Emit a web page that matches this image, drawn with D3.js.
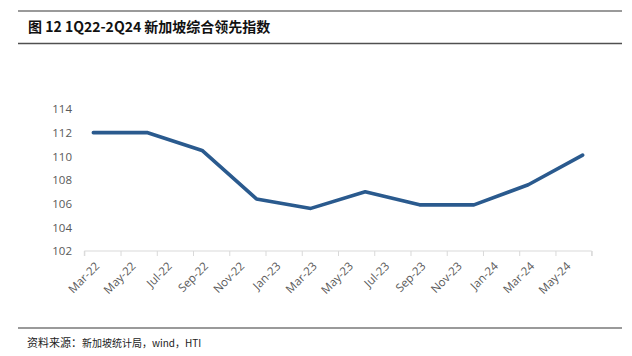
<!DOCTYPE html>
<html><head><meta charset="utf-8">
<script src="https://cdn.jsdelivr.net/npm/d3@7"></script>
<style>html,body{margin:0;padding:0;background:#fff;}svg{display:block;}</style>
</head><body>
<svg id="c" width="632" height="356"></svg>
<script>
// ---- data ----
const title = "图 12 1Q22-2Q24 新加坡综合领先指数";
const sourceLabel = "资料来源：";
const sourceText = "新加坡统计局，wind，HTI";
// months on the axis (Mar-22 .. Jun-24), data points are quarterly
const axisStart = "2022-03";
const axisMonths = 28;
const pointMonths = ["2022-03","2022-06","2022-09","2022-12","2023-03","2023-06","2023-09","2023-12","2024-03","2024-06"];
const values = [112.0,112.0,110.5,106.4,105.6,107.0,105.9,105.9,107.6,110.1];
const tickLabels = ["Mar-22","May-22","Jul-22","Sep-22","Nov-22","Jan-23","Mar-23","May-23","Jul-23","Sep-23","Nov-23","Jan-24","Mar-24","May-24"];
const yTicks = [102,104,106,108,110,112,114];

const svg = d3.select("#c");
const monthIndex = s => { const [y,m] = s.split("-").map(Number); const [y0,m0] = axisStart.split("-").map(Number); return (y-y0)*12 + (m-m0); };

const x = d3.scaleLinear().domain([0, axisMonths]).range([84.3, 591.7]);
const y = d3.scaleLinear().domain([102, 114]).range([251, 109]);

// frame lines
svg.append("line").attr("x1",18).attr("x2",622).attr("y1",11).attr("y2",11).attr("stroke","#9a9a9a").attr("stroke-width",2);
svg.append("line").attr("x1",18).attr("x2",622).attr("y1",43.5).attr("y2",43.5).attr("stroke","#505050").attr("stroke-width",1.5);
svg.append("line").attr("x1",18).attr("x2",622).attr("y1",328).attr("y2",328).attr("stroke","#9a9a9a").attr("stroke-width",2);

svg.append("text").attr("x",28).attr("y",31.5)
  .attr("font-family","'Noto Sans CJK SC', 'Noto Sans', sans-serif").attr("font-weight","bold").attr("font-size",14).attr("fill","#111")
  .text(title);

const ft = svg.append("text").attr("x",27).attr("y",347).attr("fill","#222").attr("font-family","'Noto Sans CJK SC', sans-serif");
ft.append("tspan").attr("font-size",11).text(sourceLabel);
ft.append("tspan").attr("font-size",10).text(sourceText);

// y axis labels (no axis line)
const yAxis = d3.axisLeft(y).tickValues(yTicks).tickSize(0).tickPadding(0);
const gy = svg.append("g").attr("transform","translate(72,0)").call(yAxis);
gy.select(".domain").remove();
gy.selectAll("text").attr("font-family","'Open Sans', sans-serif").attr("font-size",11.5).attr("fill","#595959");

// x axis
const tickIdx = d3.range(0, axisMonths + 1, 2);
const xAxis = d3.axisBottom(x).tickValues(tickIdx).tickSize(5).tickFormat("");
const gx = svg.append("g").attr("transform","translate(0,251)").call(xAxis);
gx.select(".domain").attr("stroke","#d9d9d9").attr("d", `M${x(0)},5V0H${x(axisMonths)}V5`);
gx.selectAll(".tick line").attr("stroke","#d9d9d9");

svg.append("g").selectAll("text").data(tickLabels).join("text")
  .attr("transform",(d,i)=>`translate(${x(i*2+0.5)+4},${264}) rotate(-45)`)
  .attr("text-anchor","end").attr("dy","0.35em")
  .attr("font-family","'Open Sans', sans-serif").attr("font-size",11.5).attr("fill","#595959")
  .text(d=>d);

// line
const pts = pointMonths.map((m,i)=>({i:monthIndex(m)+0.5, v:values[i]}));
svg.append("path").datum(pts)
  .attr("fill","none").attr("stroke","#2a5a8e").attr("stroke-width",3.6).attr("stroke-linejoin","round").attr("stroke-linecap","round")
  .attr("d", d3.line().x(d=>x(d.i)).y(d=>y(d.v)));
</script>
</body></html>
